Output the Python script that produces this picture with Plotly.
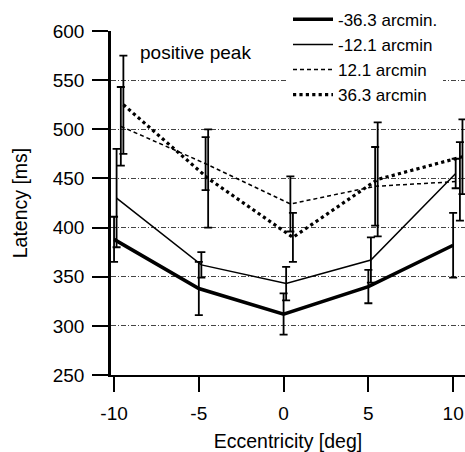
import plotly.graph_objects as go

eccentricity = [-10, -5, 0, 5, 10]
series_names = ["-36.3 arcmin.", "-12.1 arcmin", "12.1 arcmin", "36.3 arcmin"]
lat_m363 = [388, 338, 312, 340, 382]
err_m363 = [23, 27, 21, 17, 33]
lat_m121 = [430, 362, 343, 367, 455]
err_m121 = [50, 13, 17, 23, 15]
lat_p121 = [503, 465, 424, 442, 447]
err_p121 = [40, 27, 28, 40, 40]
lat_p363 = [525, 450, 390, 449, 472]
err_p363 = [50, 50, 25, 58, 38]

xticks = [-10, -5, 0, 5, 10]
xticklabels = ["-10", "-5", "0", "5", "10"]
yticks = [250, 300, 350, 400, 450, 500, 550, 600]

styles = [
    dict(width=3.5, dash="solid", off=0.0),
    dict(width=1.5, dash="solid", off=0.15),
    dict(width=1.5, dash="4px,3px", off=0.4),
    dict(width=3.2, dash="dot", off=0.55),
]
values = [(lat_m363, err_m363), (lat_m121, err_m121), (lat_p121, err_p121), (lat_p363, err_p363)]

FONT = "Liberation Sans, Arial, Helvetica, sans-serif"
fig = go.Figure()
for name, (y, e), st in zip(series_names, values, styles):
    fig.add_trace(go.Scatter(
        x=[v + st["off"] for v in eccentricity], y=y, name=name, mode="lines",
        line=dict(color="black", width=st["width"], dash=st["dash"]),
        error_y=dict(type="data", array=e, visible=True, color="black", thickness=1.8, width=4),
    ))

fig.add_annotation(x=-8.6, y=578, text="positive peak", showarrow=False, xanchor="left",
                   yanchor="middle", font=dict(size=19, color="black", family=FONT))

fig.update_layout(
    width=465, height=452,
    margin=dict(l=111, r=0, t=31, b=77),
    paper_bgcolor="white", plot_bgcolor="white",
    font=dict(family=FONT, size=17, color="black"),
    showlegend=True,
    legend=dict(x=0.5, y=1.085, xanchor="left", yanchor="top", bgcolor="white",
                font=dict(size=17, family=FONT, color="black"), tracegroupgap=0,
                itemwidth=40),
    xaxis=dict(range=[-10.18, 10.7], tickvals=xticks, ticktext=xticklabels, ticks="outside",
               ticklen=15, tickwidth=2, ticklabelstandoff=5,
               tickcolor="black", showline=True, linecolor="black", linewidth=2, showgrid=False,
               zeroline=False,
               title=dict(text="Eccentricity [deg]", standoff=12,
                          font=dict(size=19.5, family=FONT, color="black")),
               tickfont=dict(size=19, family=FONT, color="black")),
    yaxis=dict(range=[250, 600], tickvals=yticks, ticks="outside", ticklen=16, tickwidth=2,
               ticklabelstandoff=4,
               tickcolor="black", showline=True, linecolor="black", linewidth=2.5, showgrid=True,
               gridcolor="#444444", gridwidth=0.8, griddash="5px,2px,1px,2px", zeroline=False,
               title=dict(text="Latency [ms]", standoff=20,
                          font=dict(size=19.5, family=FONT, color="black")),
               tickfont=dict(size=19, family=FONT, color="black")),
)
fig.write_html("out.html")
